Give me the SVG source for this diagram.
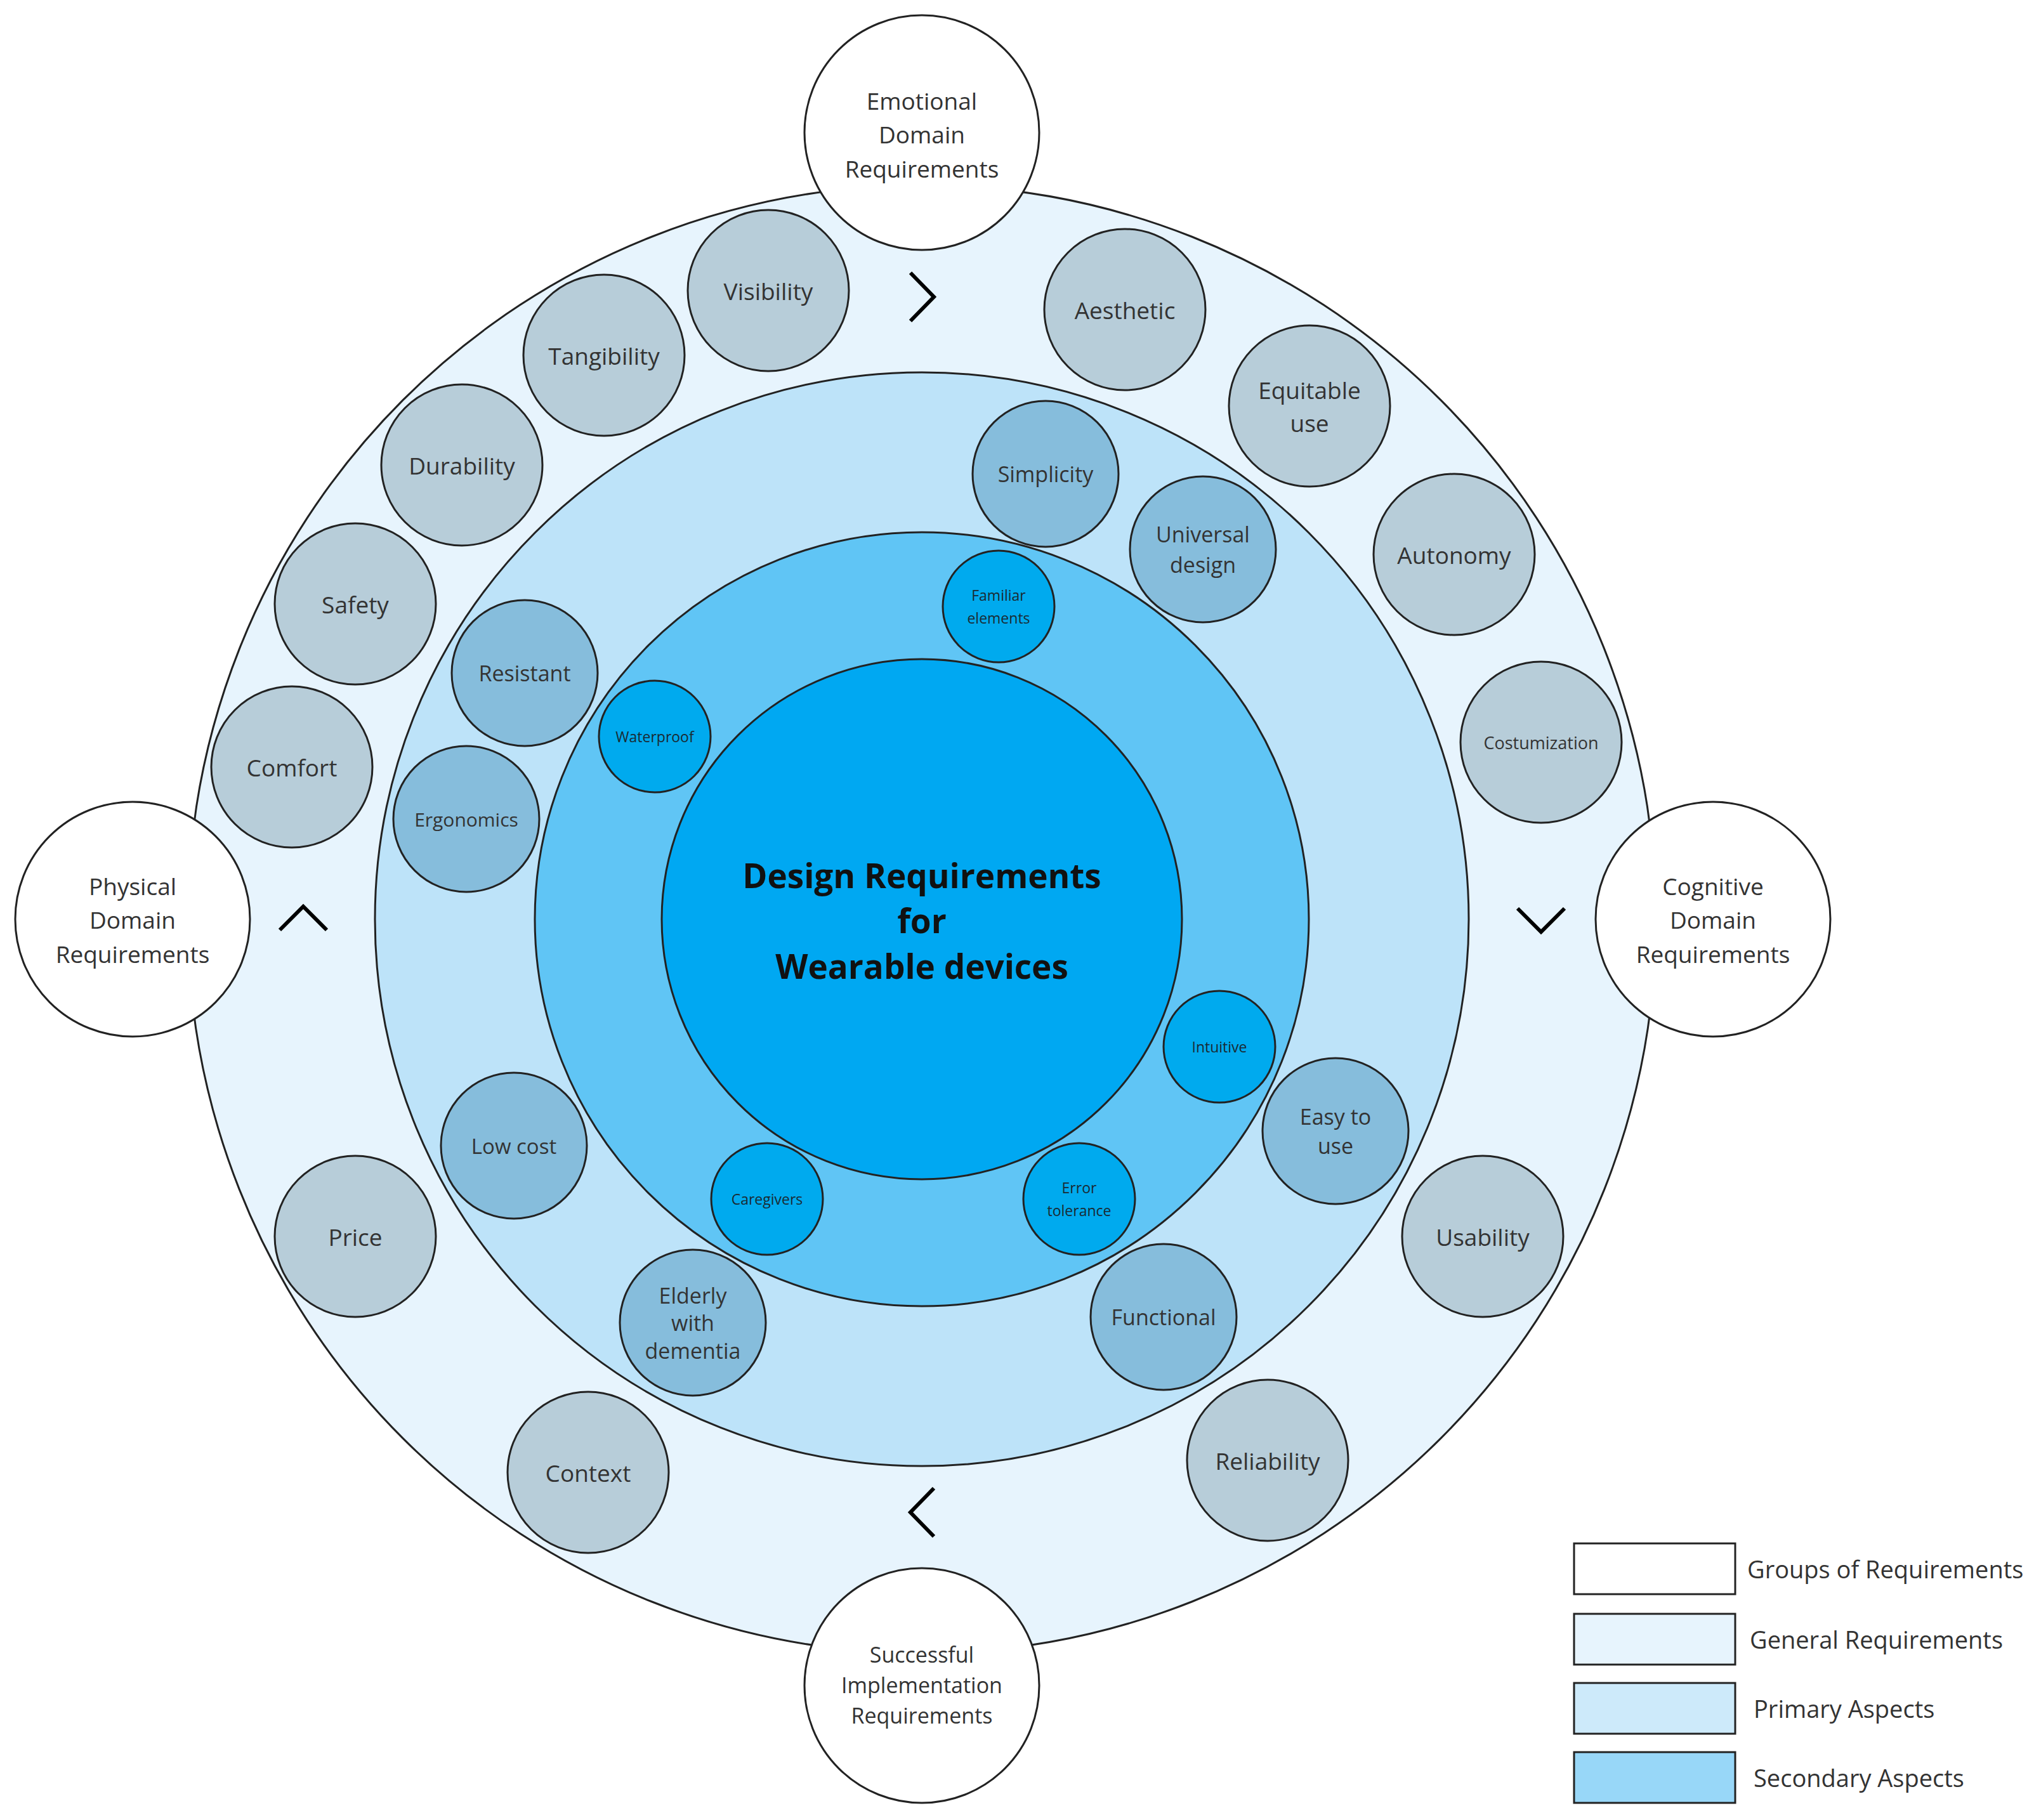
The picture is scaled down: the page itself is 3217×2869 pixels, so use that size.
<svg xmlns="http://www.w3.org/2000/svg" width="3217" height="2869" viewBox="0 0 3217 2869">
<style>
text{font-family:"Open Sans","Noto Sans",sans-serif;fill:#333;text-anchor:middle;dominant-baseline:central}
.g{fill:#b7cdd9;stroke:#222;stroke-width:3}
.p{fill:#86bddc;stroke:#222;stroke-width:3}
.s{fill:#00aaee;stroke:#222;stroke-width:3}
.grp{fill:#fff;stroke:#222;stroke-width:3}
.t{font-size:37px}.tp{font-size:34px}.ts{font-size:23px;fill:#1a2a33}
.chev{fill:none;stroke:#000;stroke-width:6}
.lg{font-size:38px;text-anchor:start}
</style>
<rect width="3217" height="2869" fill="#fff"/>
<g id="rings">
<circle cx="1453" cy="1449" r="1157" fill="#e7f4fd" stroke="#222" stroke-width="3"/>
<circle cx="1453" cy="1449" r="862" fill="#bde3f9" stroke="#222" stroke-width="3"/>
<circle cx="1453" cy="1449" r="610" fill="#60c5f5" stroke="#222" stroke-width="3"/>
<circle cx="1453" cy="1449" r="410" fill="#00a8f2" stroke="#222" stroke-width="3"/>
<text x="1453" y="1379" style="font-size:53px;font-weight:bold;fill:#111">Design Requirements</text>
<text x="1453" y="1450" style="font-size:53px;font-weight:bold;fill:#111">for</text>
<text x="1453" y="1522" style="font-size:53px;font-weight:bold;fill:#111">Wearable devices</text>
</g>
<g id="connectors">
<path class="chev" d="M1435,430 L1472,468 L1435,506"/>
<path class="chev" d="M2392,1432 L2429,1469 L2466,1432"/>
<path class="chev" d="M1472,2346 L1435,2384 L1472,2422"/>
<path class="chev" d="M441,1466 L478,1429 L515,1466"/>
</g>
<g id="emotional"><circle class="grp" cx="1453" cy="209" r="185"/><text class="t" x="1453" y="158">Emotional</text><text class="t" x="1453" y="211">Domain</text><text class="t" x="1453" y="265">Requirements</text></g>
<g id="physical"><circle class="grp" cx="209" cy="1449" r="185"/><text class="t" x="209" y="1396">Physical</text><text class="t" x="209" y="1449">Domain</text><text class="t" x="209" y="1503">Requirements</text></g>
<g id="cognitive"><circle class="grp" cx="2700" cy="1449" r="185"/><text class="t" x="2700" y="1396">Cognitive</text><text class="t" x="2700" y="1449">Domain</text><text class="t" x="2700" y="1503">Requirements</text></g>
<g id="successful"><circle class="grp" cx="1453" cy="2657" r="185"/><text class="tp" x="1453" y="2608">Successful</text><text class="tp" x="1453" y="2656">Implementation</text><text class="tp" x="1453" y="2704">Requirements</text></g>
<g id="visibility"><circle class="g" cx="1211" cy="458" r="127"/><text class="t" x="1211" y="458">Visibility</text></g>
<g id="tangibility"><circle class="g" cx="952" cy="560" r="127"/><text class="t" x="952" y="560">Tangibility</text></g>
<g id="durability"><circle class="g" cx="728" cy="733" r="127"/><text class="t" x="728" y="733">Durability</text></g>
<g id="safety"><circle class="g" cx="560" cy="952" r="127"/><text class="t" x="560" y="952">Safety</text></g>
<g id="comfort"><circle class="g" cx="460" cy="1209" r="127"/><text class="t" x="460" y="1209">Comfort</text></g>
<g id="aesthetic"><circle class="g" cx="1773" cy="488" r="127"/><text class="t" x="1773" y="488">Aesthetic</text></g>
<g id="equitable"><circle class="g" cx="2064" cy="640" r="127"/><text class="t" x="2064" y="614">Equitable</text><text class="t" x="2064" y="666">use</text></g>
<g id="autonomy"><circle class="g" cx="2292" cy="874" r="127"/><text class="t" x="2292" y="874">Autonomy</text></g>
<g id="costumization"><circle class="g" cx="2429" cy="1170" r="127"/><text x="2429" y="1170" style="font-size:27px">Costumization</text></g>
<g id="usability"><circle class="g" cx="2337" cy="1949" r="127"/><text class="t" x="2337" y="1949">Usability</text></g>
<g id="reliability"><circle class="g" cx="1998" cy="2302" r="127"/><text class="t" x="1998" y="2302">Reliability</text></g>
<g id="context"><circle class="g" cx="927" cy="2321" r="127"/><text class="t" x="927" y="2321">Context</text></g>
<g id="price"><circle class="g" cx="560" cy="1949" r="127"/><text class="t" x="560" y="1949">Price</text></g>
<g id="simplicity"><circle class="p" cx="1648" cy="747" r="115"/><text class="tp" x="1648" y="747">Simplicity</text></g>
<g id="universal"><circle class="p" cx="1896" cy="866" r="115"/><text class="tp" x="1896" y="842">Universal</text><text class="tp" x="1896" y="890">design</text></g>
<g id="resistant"><circle class="p" cx="827" cy="1061" r="115"/><text class="tp" x="827" y="1061">Resistant</text></g>
<g id="ergonomics"><circle class="p" cx="735" cy="1291" r="115"/><text x="735" y="1291" style="font-size:30px">Ergonomics</text></g>
<g id="lowcost"><circle class="p" cx="810" cy="1806" r="115"/><text x="810" y="1806" style="font-size:33px">Low cost</text></g>
<g id="elderly"><circle class="p" cx="1092" cy="2085" r="115"/><text class="tp" x="1092" y="2042">Elderly</text><text class="tp" x="1092" y="2085">with</text><text class="tp" x="1092" y="2129">dementia</text></g>
<g id="functional"><circle class="p" cx="1834" cy="2076" r="115"/><text class="tp" x="1834" y="2076">Functional</text></g>
<g id="easy"><circle class="p" cx="2105" cy="1783" r="115"/><text class="tp" x="2105" y="1760">Easy to</text><text class="tp" x="2105" y="1806">use</text></g>
<g id="familiar"><circle class="s" cx="1574" cy="956" r="88"/><text class="ts" x="1574" y="938">Familiar</text><text class="ts" x="1574" y="974">elements</text></g>
<g id="waterproof"><circle class="s" cx="1032" cy="1161" r="88"/><text class="ts" x="1032" y="1161">Waterproof</text></g>
<g id="intuitive"><circle class="s" cx="1922" cy="1650" r="88"/><text class="ts" x="1922" y="1650">Intuitive</text></g>
<g id="error"><circle class="s" cx="1701" cy="1890" r="88"/><text class="ts" x="1701" y="1872">Error</text><text class="ts" x="1701" y="1908">tolerance</text></g>
<g id="caregivers"><circle class="s" cx="1209" cy="1890" r="88"/><text class="ts" x="1209" y="1890">Caregivers</text></g>
<g id="legend">
<rect x="2481" y="2433" width="254" height="80" fill="#fff" stroke="#222" stroke-width="3"/>
<rect x="2481" y="2544" width="254" height="80" fill="#e7f4fd" stroke="#222" stroke-width="3"/>
<rect x="2481" y="2653" width="254" height="80" fill="#cdeafa" stroke="#222" stroke-width="3"/>
<rect x="2481" y="2762" width="254" height="80" fill="#98d7f8" stroke="#222" stroke-width="3"/>
<text class="lg" x="2754" y="2473">Groups of Requirements</text>
<text class="lg" x="2758" y="2584">General Requirements</text>
<text class="lg" x="2764" y="2693">Primary Aspects</text>
<text class="lg" x="2764" y="2802">Secondary Aspects</text>
</g>
</svg>
